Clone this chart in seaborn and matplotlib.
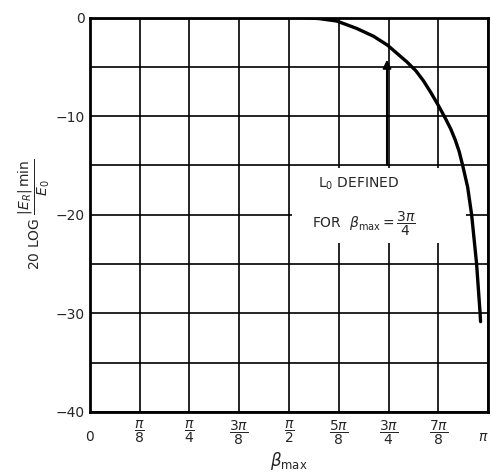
import numpy as np
import matplotlib
matplotlib.use("Agg")
import matplotlib.pyplot as plt
import seaborn as sns
import pandas as pd
from matplotlib.patches import Rectangle

# Curve: beta_max in eighths of pi, level in dB
beta_eighths = [0.0, 1.0, 2.0, 3.0, 4.0, 4.3, 4.6, 4.96, 5.36, 5.7, 5.98,
                6.37, 6.55, 6.7, 6.85, 7.0, 7.14, 7.25, 7.34, 7.42, 7.49,
                7.59, 7.67, 7.77, 7.84, 7.85]
level_db = [0.0, 0.0, 0.0, 0.0, 0.0, -0.02, -0.1, -0.35, -1.1, -1.9, -2.8,
            -4.5, -5.4, -6.4, -7.6, -8.9, -10.2, -11.3, -12.4, -13.6, -15.0,
            -17.2, -20.0, -25.0, -30.0, -30.85]

x_ticks = list(range(9))
x_labels = ["\n0", r"$\dfrac{\pi}{8}$", r"$\dfrac{\pi}{4}$", r"$\dfrac{3\pi}{8}$",
            r"$\dfrac{\pi}{2}$", r"$\dfrac{5\pi}{8}$", r"$\dfrac{3\pi}{4}$",
            r"$\dfrac{7\pi}{8}$", "\n" + r"$\pi$"]
y_major = [-40, -30, -20, -10, 0]
y_minor = [-35, -25, -15, -5]

df = pd.DataFrame({"beta": np.array(beta_eighths) * np.pi / 8, "db": level_db})

sns.set_style("white")
plt.rcParams["font.family"] = ["DejaVu Sans"]
plt.rcParams["mathtext.fontset"] = "dejavusans"

fig = plt.figure(figsize=(4.91, 4.75), dpi=100)
ax = fig.add_axes([0.183, 0.133, 0.811, 0.830])

sns.lineplot(data=df, x="beta", y="db", color="black", linewidth=2.4,
             ax=ax, zorder=4)

ax.set_xlim(0, np.pi)
ax.set_ylim(-40, 0)
ax.set_xticks(np.array(x_ticks) * np.pi / 8)
ax.set_xticklabels(x_labels, fontsize=10)
for lab in ax.get_xticklabels():
    lab.set_linespacing(0.75)
ax.get_xticklabels()[-1].set_ha("right")
ax.set_yticks(y_major)
ax.set_yticklabels([str(v).replace("-", "\u2212") for v in y_major], fontsize=10)
ax.set_yticks(y_minor, minor=True)
ax.tick_params(length=0, which="both")
ax.tick_params(axis="x", pad=5)
ax.grid(True, which="both", color="black", linewidth=1.2)
ax.set_axisbelow(True)
for s in ax.spines.values():
    s.set_color("black")
    s.set_linewidth(2.0)

# white box behind the note
e = np.pi / 8
ax.add_patch(Rectangle((4.06 * e, -22.9), 3.5 * e, 7.6,
                       facecolor="white", edgecolor="none", zorder=2))
ax.annotate("", xy=(5.97 * e, -4.0), xytext=(5.97 * e, -15.2),
            arrowprops=dict(arrowstyle="-|>", color="black", lw=1.5,
                            mutation_scale=12), zorder=3)
ax.text(4.58 * e, -16.9, r"L$_0$ DEFINED", fontsize=10,
        va="center", ha="left", zorder=3)
ax.text(4.46 * e, -20.9, r"FOR  $\beta_{\mathrm{max}}=\dfrac{3\pi}{4}$",
        fontsize=10, va="center", ha="left", zorder=3)

ax.set_xlabel(r"$\beta_{\mathrm{max}}$", fontsize=12, labelpad=2)
ax.set_ylabel(r"20 LOG $\dfrac{|E_R|\,\mathrm{min}}{E_0}$", fontsize=10, labelpad=3)

fig.savefig("out.png", dpi=100)
